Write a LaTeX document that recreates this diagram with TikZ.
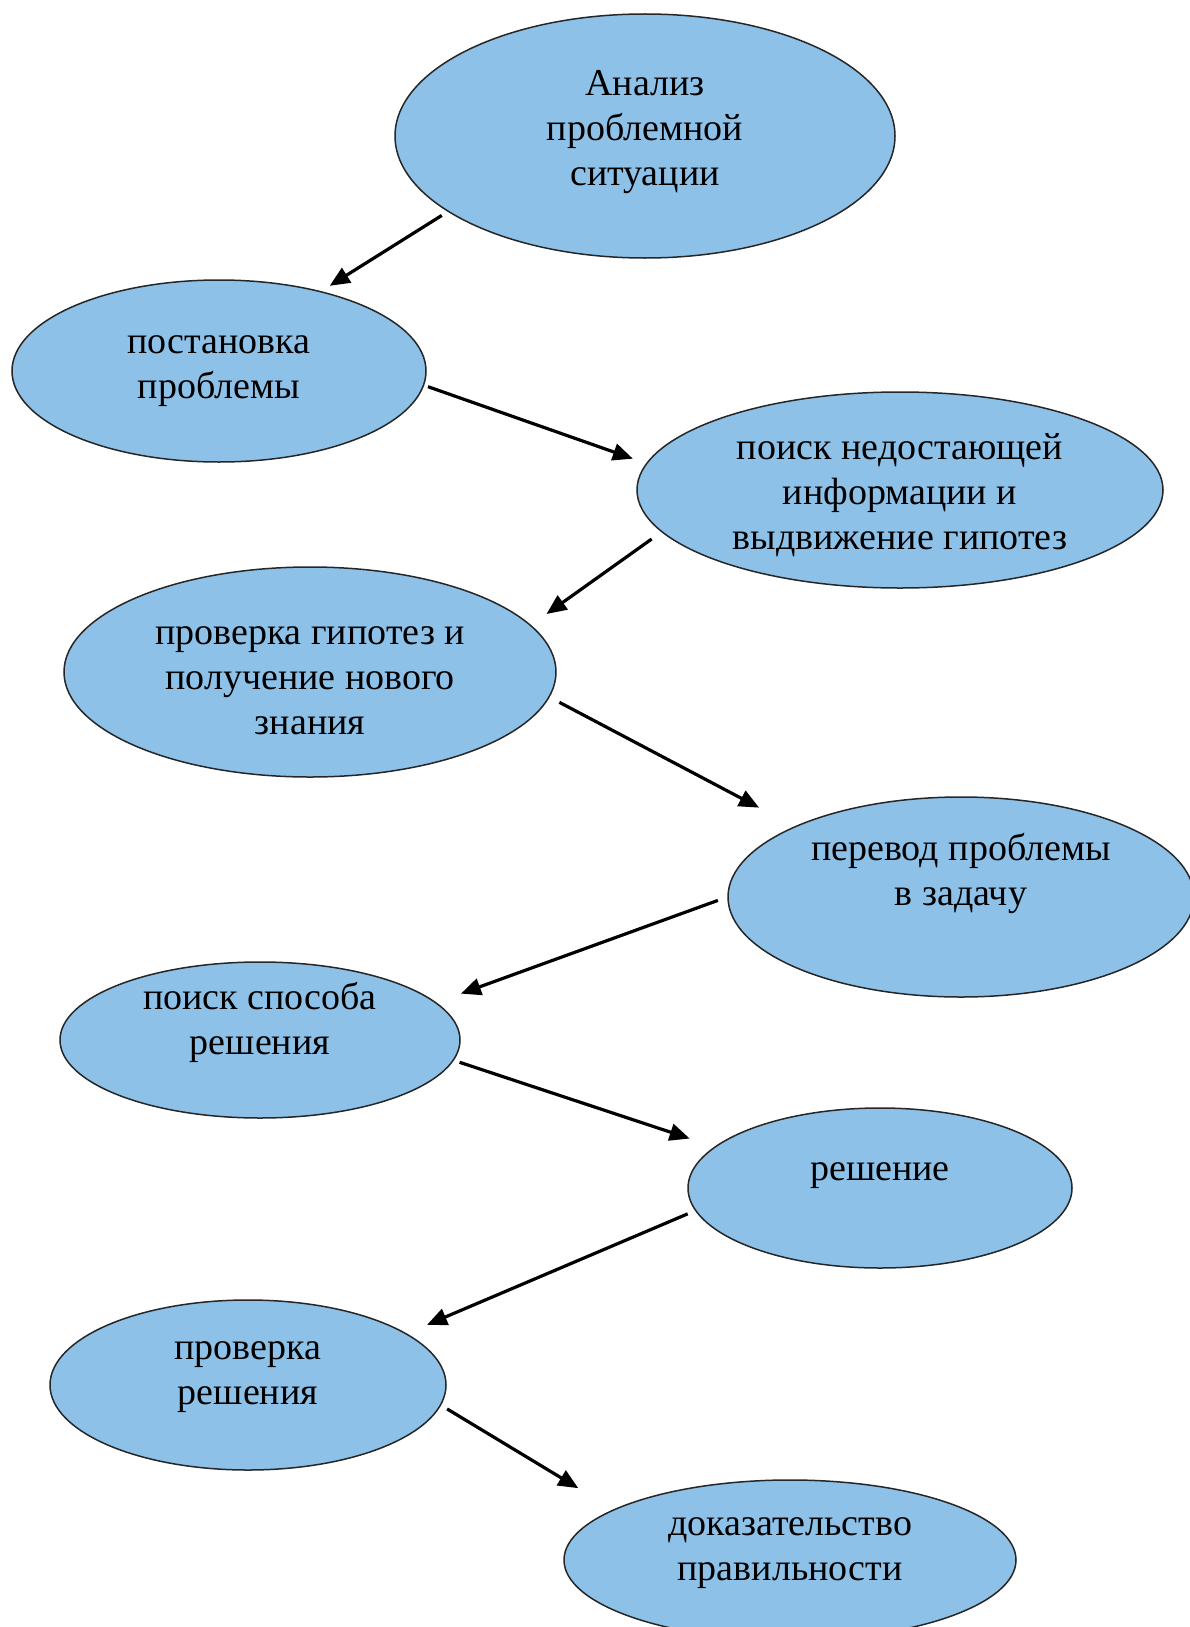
\documentclass[tikz,border=0pt]{standalone}
\usepackage{fontspec}
\setmainfont{Liberation Serif}
\usetikzlibrary{arrows.meta,shapes.geometric}
\definecolor{bubblefill}{RGB}{141,193,232}
\newcommand{\liftxt}[2]{\raisebox{#1}[\height][\depth]{\begin{tabular}{@{}c@{}}#2\end{tabular}}}
\begin{document}
\begin{tikzpicture}[x=1pt,y=-1pt,
  bubble/.style={ellipse, draw=black!85, line width=1.5pt, fill=bubblefill,
    inner sep=0pt, font=\fontsize{38}{45}\selectfont, text=black},
  conn/.style={line width=3.2pt, -{Triangle[length=20pt,width=17pt]}}]
\useasboundingbox (0,0) rectangle (1190,1627);

\node[bubble, minimum width=500pt, minimum height=244pt] (e1) at (645,136)
  {\liftxt{4pt}{Анализ\\проблемной\\ситуации}};
\node[bubble, minimum width=414pt, minimum height=182pt] (e2) at (219,371)
  {\liftxt{4pt}{постановка\\проблемы}};
\node[bubble, minimum width=526pt, minimum height=196pt] (e3) at (900,490)
  {\liftxt{-5pt}{поиск недостающей\\информации и\\выдвижение гипотез}};
\node[bubble, minimum width=492pt, minimum height=210pt] (e4) at (310,672)
  {\liftxt{-8pt}{проверка гипотез и\\получение нового\\знания}};
\node[bubble, minimum width=466pt, minimum height=200pt] (e5) at (961,897)
  {\liftxt{23pt}{перевод проблемы\\в задачу}};
\node[bubble, minimum width=400pt, minimum height=156pt] (e6) at (260,1040)
  {\liftxt{17pt}{поиск способа\\решения}};
\node[bubble, minimum width=384pt, minimum height=160pt] (e7) at (880,1188)
  {\liftxt{17pt}{решение}};
\node[bubble, minimum width=396pt, minimum height=170pt] (e8) at (248,1385)
  {\liftxt{12pt}{проверка\\решения}};
\node[bubble, minimum width=452pt, minimum height=160pt] (e9) at (790,1560)
  {\liftxt{11pt}{доказательство\\правильности}};

\draw[conn, shorten <=7pt,  shorten >=10pt] (e1.201) -- (e2.38);
\draw[conn, shorten <=4pt,  shorten >=14pt] (e2.356) -- (e3.174);
\draw[conn, shorten <=12pt, shorten >=19pt] (e3.190) -- (e4.12);
\draw[conn, shorten <=11pt, shorten >=40pt] (e4.354) -- (e5.157);
\draw[conn, shorten <=10pt, shorten >=26pt] (e5.180) -- (e6.12);
\draw[conn, shorten <=6pt,  shorten >=26pt] (e6.354) -- (e7.166);
\draw[conn, shorten <=8pt,  shorten >=22pt] (e7.187) -- (e8.18);
\draw[conn, shorten <=7pt,  shorten >=41pt] (e8.354) -- (e9.164);
\end{tikzpicture}
\end{document}
